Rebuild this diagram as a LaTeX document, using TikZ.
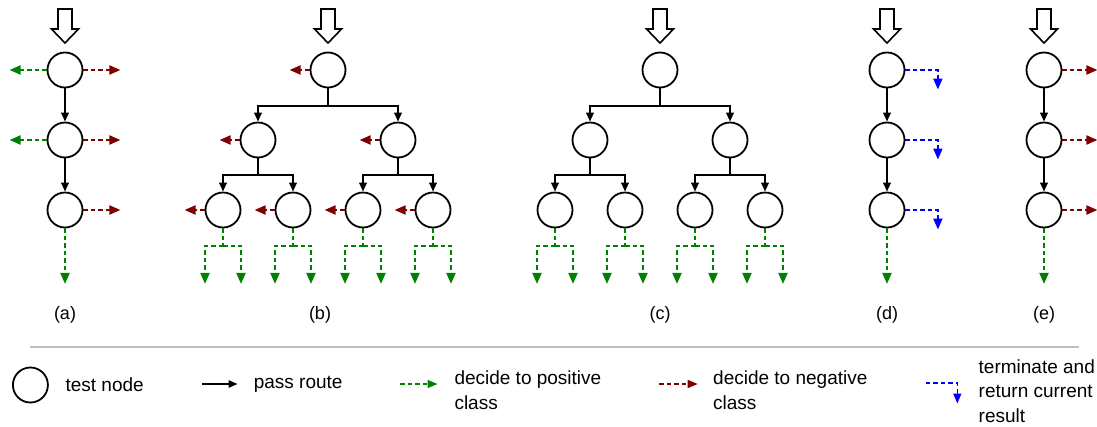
\documentclass[tikz,border=0pt]{standalone}
\usepackage{fontspec}
\setmainfont{Liberation Sans}
\usetikzlibrary{arrows.meta}
\definecolor{posgreen}{RGB}{0,128,0}
\definecolor{negred}{RGB}{128,0,0}
\definecolor{termblue}{RGB}{0,0,255}
\tikzset{
  tn/.style={circle, draw, line width=1.8pt, minimum size=35pt, inner sep=0pt},
  wire/.style={draw, line width=2pt},
  pass/.style={wire, -{Triangle[length=9pt,width=7.5pt]}},
  dashpat/.style={line width=2pt, dash pattern=on 4.5pt off 3pt},
  posarr/.style={dashpat, draw=posgreen, -{Triangle[length=11pt,width=9pt]}},
  posline/.style={dashpat, draw=posgreen},
  negarr/.style={dashpat, draw=negred, -{Triangle[length=11pt,width=9pt]}},
  termarr/.style={dashpat, draw=termblue, -{Triangle[length=11pt,width=9pt]}},
  lbl/.style={inner sep=0pt, font=\fontsize{18pt}{25pt}\selectfont},
  legtxt/.style={inner sep=0pt, anchor=west, align=left, font=\fontsize{19pt}{24.5pt}\selectfont},
  inarrow/.pic={\draw[line width=1.6pt, line join=miter]
      (-7,0) -- (7,0) -- (7,20) -- (13.5,20) -- (0,34) -- (-13.5,20) -- (-7,20) -- cycle;},
}
\begin{document}
\begin{tikzpicture}[x=1pt, y=-1pt]
\useasboundingbox (0,0) rectangle (1097,426);

% ---------- (a) cascade ----------
\pic at (65,9) {inarrow};
\node[tn] (a1) at (65,70) {};
\node[tn] (a2) at (65,140) {};
\node[tn] (a3) at (65,210) {};
\draw[pass] (a1) -- (a2);
\draw[pass] (a2) -- (a3);
\draw[posarr] (a1.west) -- ++(-37,0);
\draw[posarr] (a2.west) -- ++(-37,0);
\draw[negarr] (a1.east) -- ++(37,0);
\draw[negarr] (a2.east) -- ++(37,0);
\draw[negarr] (a3.east) -- ++(37,0);
\draw[posarr] (a3.south) -- ++(0,55.5);
\node[lbl] (la) at (65,315) {(a)};

% ---------- (b) tree with negative exits ----------
\pic at (328,9) {inarrow};
\node[tn] (b1) at (328,70) {};
\node[tn] (b2) at (258,140) {};
\node[tn] (b3) at (398,140) {};
\node[tn] (b4) at (223,210) {};
\node[tn] (b5) at (293,210) {};
\node[tn] (b6) at (363,210) {};
\node[tn] (b7) at (433,210) {};
\coordinate (bj1) at (328,106);
\coordinate (bj2) at (258,175);
\coordinate (bj3) at (398,175);
\draw[wire] (b1.south) -- (bj1);
\draw[pass] (bj1) -| (b2.north);
\draw[pass] (bj1) -| (b3.north);
\draw[wire] (b2.south) -- (bj2);
\draw[pass] (bj2) -| (b4.north);
\draw[pass] (bj2) -| (b5.north);
\draw[wire] (b3.south) -- (bj3);
\draw[pass] (bj3) -| (b6.north);
\draw[pass] (bj3) -| (b7.north);
\foreach \nn in {b1,b2,b3,b4,b5,b6,b7}
  \draw[negarr] (\nn.west) -- ++(-20,0);
\foreach \nn in {b4,b5,b6,b7}{
  \draw[posline] (\nn.south) -- ++(0,17.5) coordinate (\nn f);
  \draw[posarr] (\nn f) -- ++(-18,0) -- ++(0,38);
  \draw[posarr] (\nn f) -- ++(18,0) -- ++(0,38);
}
\node[lbl] (lb) at (320,315) {(b)};

% ---------- (c) plain tree ----------
\pic at (660,9) {inarrow};
\node[tn] (c1) at (660,70) {};
\node[tn] (c2) at (590,140) {};
\node[tn] (c3) at (730,140) {};
\node[tn] (c4) at (555,210) {};
\node[tn] (c5) at (625,210) {};
\node[tn] (c6) at (695,210) {};
\node[tn] (c7) at (765,210) {};
\coordinate (cj1) at (660,106);
\coordinate (cj2) at (590,175);
\coordinate (cj3) at (730,175);
\draw[wire] (c1.south) -- (cj1);
\draw[pass] (cj1) -| (c2.north);
\draw[pass] (cj1) -| (c3.north);
\draw[wire] (c2.south) -- (cj2);
\draw[pass] (cj2) -| (c4.north);
\draw[pass] (cj2) -| (c5.north);
\draw[wire] (c3.south) -- (cj3);
\draw[pass] (cj3) -| (c6.north);
\draw[pass] (cj3) -| (c7.north);
\foreach \nn in {c4,c5,c6,c7}{
  \draw[posline] (\nn.south) -- ++(0,17.5) coordinate (\nn f);
  \draw[posarr] (\nn f) -- ++(-18,0) -- ++(0,38);
  \draw[posarr] (\nn f) -- ++(18,0) -- ++(0,38);
}
\node[lbl] (lc) at (660,315) {(c)};

% ---------- (d) cascade with early termination ----------
\pic at (887,9) {inarrow};
\node[tn] (d1) at (887,70) {};
\node[tn] (d2) at (887,140) {};
\node[tn] (d3) at (887,210) {};
\draw[pass] (d1) -- (d2);
\draw[pass] (d2) -- (d3);
\foreach \nn in {d1,d2,d3}
  \draw[termarr] (\nn.east) -- ++(32.5,0) -- ++(0,19.5);
\draw[posarr] (d3.south) -- ++(0,55.5);
\node[lbl] (ld) at (887,315) {(d)};

% ---------- (e) cascade with negative exits only ----------
\pic at (1044,9) {inarrow};
\node[tn] (e1) at (1044,70) {};
\node[tn] (e2) at (1044,140) {};
\node[tn] (e3) at (1044,210) {};
\draw[pass] (e1) -- (e2);
\draw[pass] (e2) -- (e3);
\foreach \nn in {e1,e2,e3}
  \draw[negarr] (\nn.east) -- ++(35,0);
\draw[posarr] (e3.south) -- ++(0,55.5);
\node[lbl] (le) at (1044,315) {(e)};

% ---------- legend ----------
\draw[line width=1.5pt, black!25] (30,347) -- (1079,347);

\node[tn] (k1) at (30.4,385) {};
\node[legtxt] (k1t) at (65.4,385) {test node};

\coordinate (k2s) at (202,384);
\draw[pass, line width=1.4pt] (k2s) -- ++(35.5,0);
\node[legtxt] (k2t) at (253.6,384) {pass route};

\coordinate (k3s) at (400,384);
\draw[posarr, line width=1.4pt, -{Triangle[length=10pt,width=8pt]}] (k3s) -- ++(37.5,0);
\node[legtxt] (k3t) at (454.3,390) {decide to positive\\class};

\coordinate (k4s) at (659.3,384);
\draw[negarr, line width=1.4pt, -{Triangle[length=10pt,width=8pt]}] (k4s) -- ++(38.4,0);
\node[legtxt] (k4t) at (713,390) {decide to negative\\class};

\coordinate (k5s) at (925.8,383);
\draw[termarr, line width=1.4pt, -{Triangle[length=10pt,width=8pt]}] (k5s) -- ++(31.5,0) -- ++(0,20.5);
\node[legtxt] (k5t) at (978.5,391) {terminate and\\return current\\result};
\end{tikzpicture}
\end{document}
